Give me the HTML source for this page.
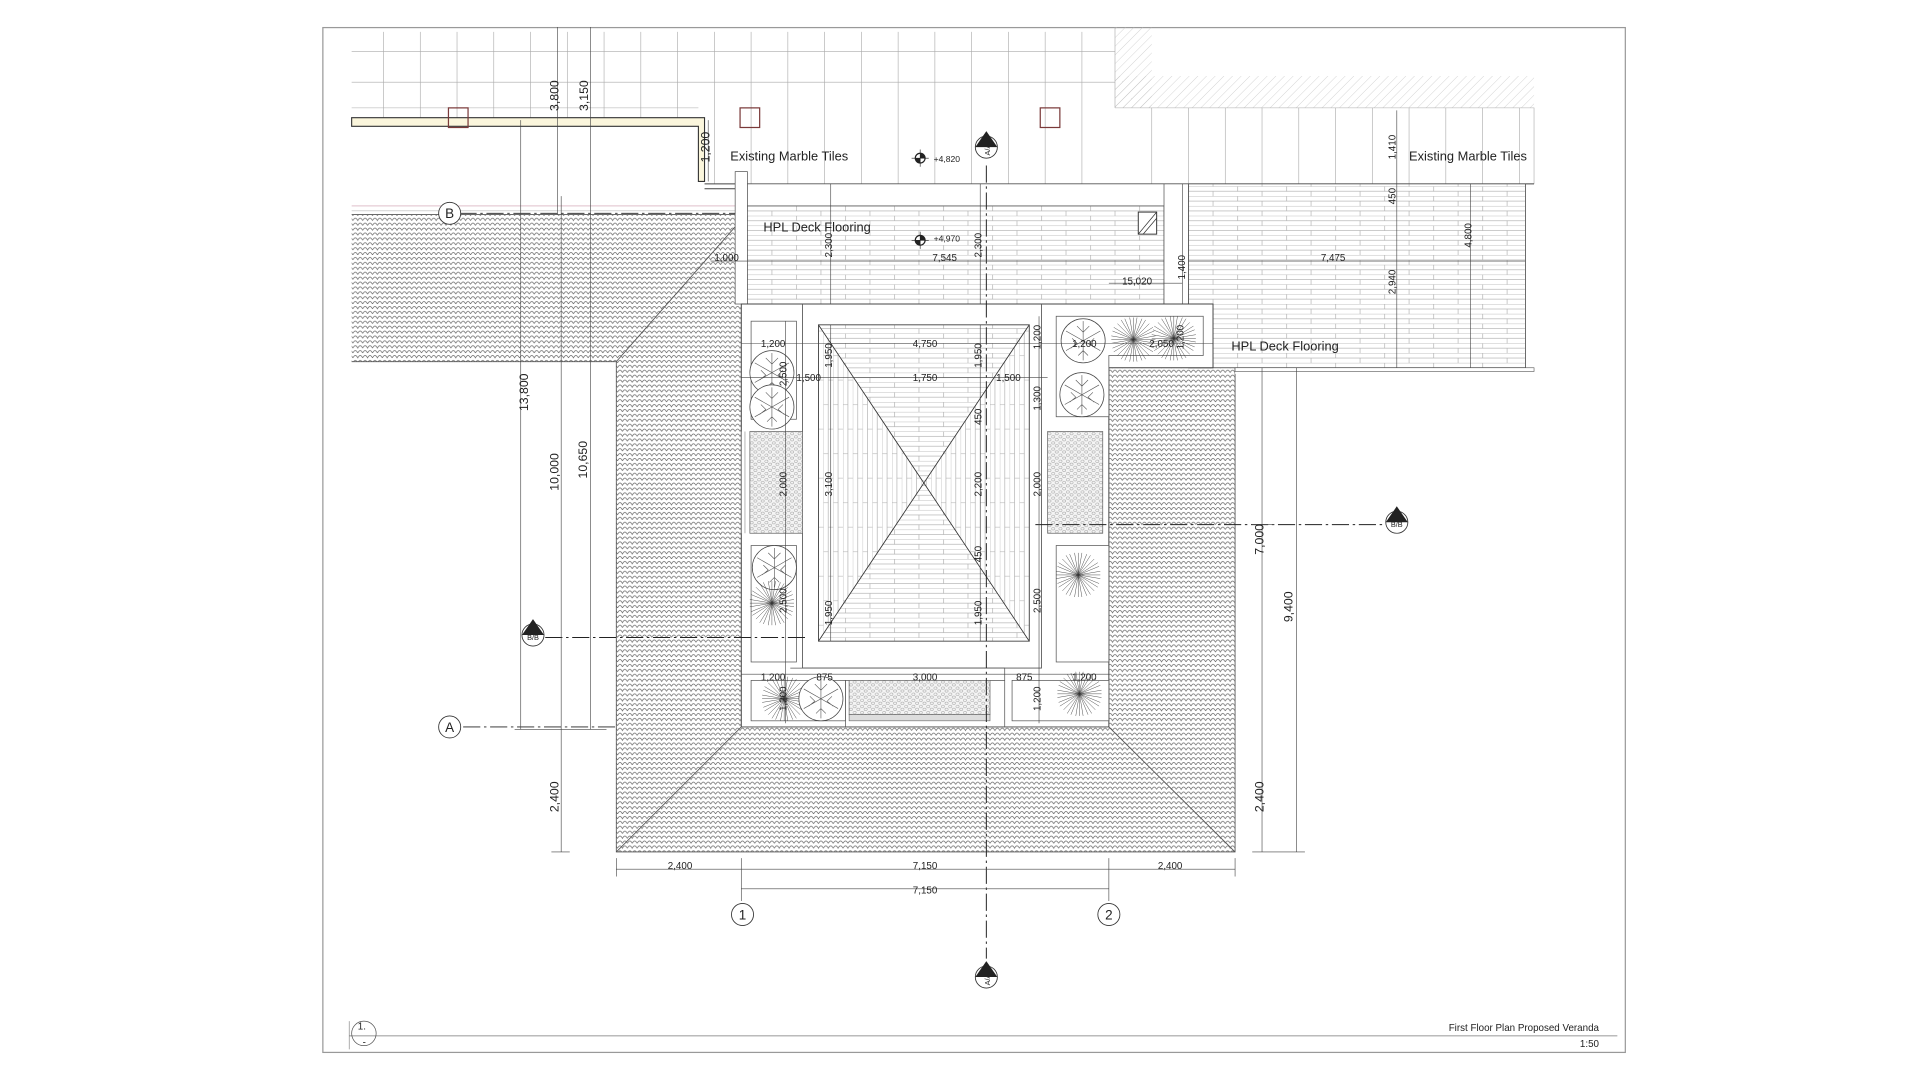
<!DOCTYPE html>
<html><head><meta charset="utf-8"><style>
html,body{margin:0;padding:0;background:#fff;width:1920px;height:1080px;overflow:hidden}
svg{display:block}
text{font-family:"Liberation Sans Narrow","Liberation Sans",sans-serif;fill:#222}
.d{font-size:8px}
.l{font-size:10.5px}
</style></head><body>
<svg width="1920" height="1080" viewBox="0 0 1567 881" preserveAspectRatio="none" xmlns="http://www.w3.org/2000/svg">
<defs>
<pattern id="tile" width="8" height="8" patternUnits="userSpaceOnUse">
<rect width="8" height="8" fill="#fff"/>
<path d="M0 4 Q2 0 4 4 Q6 0 8 4" fill="none" stroke="#666" stroke-width="0.55"/>
<path d="M-4 8 Q-2 4 0 8 Q2 4 4 8 Q6 4 8 8 Q10 4 12 8" fill="none" stroke="#666" stroke-width="0.55"/>
</pattern>
<pattern id="deckh" width="40" height="8" patternUnits="userSpaceOnUse">
<rect width="40" height="8" fill="#fff"/>
<path d="M0 0H40M0 4H40M10 0V4M30 4V8" stroke="#aaa" stroke-width="0.5"/>
</pattern>
<pattern id="deckv" width="8" height="40" patternUnits="userSpaceOnUse">
<rect width="8" height="40" fill="#fff"/>
<path d="M0 0V40M4 0V40M0 10H4M4 30H8" stroke="#aaa" stroke-width="0.5"/>
</pattern>
<pattern id="grav" width="6" height="5" patternUnits="userSpaceOnUse">
<rect width="6" height="5" fill="#f4f4f4"/>
<ellipse cx="1.5" cy="1.3" rx="1.3" ry="1" fill="none" stroke="#999" stroke-width="0.4"/>
<ellipse cx="4.5" cy="3.7" rx="1.3" ry="1" fill="none" stroke="#999" stroke-width="0.4"/>
</pattern>
<pattern id="hatch" width="5" height="5" patternUnits="userSpaceOnUse" patternTransform="rotate(45)">
<path d="M0 0V5" stroke="#bbb" stroke-width="0.5"/>
</pattern>
<g id="tree">
<circle r="18" fill="#fff" stroke="#444" stroke-width="0.6"/>
<path d="M0 0L0-16M0 0L14-8M0 0L14 8M0 0L0 16M0 0L-14 8M0 0L-14-8M-5-12L0-7L5-12M9-2L5 2L10 6M-9-2L-5 2L-10 6M-4 12L0 8L4 12" fill="none" stroke="#555" stroke-width="0.5"/>
</g>
<g id="palm" stroke="#333" stroke-width="0.35">
<path d="M-18 0H18M0-18V18M-13-13L13 13M13-13L-13 13M-17-7L17 7M-17 7L17-7M-7-17L7 17M7-17L-7 17M-16-10L16 10M-16 10L16-10M-10-16L10 16M10-16L-10 16M-18-3L18 3M-18 3L18-3M-3-18L3 18M3-18L-3 18"/>
</g>
</defs>
<rect width="1567" height="881" fill="#fff"/>
<rect x="263.5" y="22.5" width="1063" height="836" fill="none" stroke="#999" stroke-width="1"/>
<line x1="285" y1="845" x2="1320" y2="845" stroke="#777" stroke-width="0.7"/>
<line x1="285" y1="833" x2="285" y2="856" stroke="#777" stroke-width="0.5"/>
<text x="292" y="840" class="d">1.</text><text x="296" y="853" class="d">-</text>
<circle cx="297" cy="843" r="10" fill="none" stroke="#555" stroke-width="0.6"/>
<text x="1305" y="841" class="d" text-anchor="end">First Floor Plan Proposed Veranda</text>
<text x="1305" y="854" class="d" text-anchor="end">1:50</text>

<rect x="910" y="22" width="30" height="66" fill="url(#hatch)"/>
<rect x="910" y="62" width="342" height="26" fill="url(#hatch)"/>
<g stroke="#aaa" stroke-width="0.5" fill="none">
<path d="M287 42H910M287 67H910M287 88H570"/>
<path d="M313 26V96M343 26V96M373 26V96M403 26V96M433 26V96M463 26V96M493 26V96M523 26V96M553 26V96M583 26V150M613 26V150M643 26V150M673 26V150M703 26V150M733 26V150M763 26V150M793 26V150M823 26V150M853 26V150M883 26V150M910 22V88"/>
<path d="M910 88H1252V150M940 88V150M970 88V150M1000 88V150M1030 88V150M1060 88V150M1090 88V150M1120 88V150M1150 88V150M1180 88V150M1210 88V150M1240 88V150"/>
</g>
<path d="M287 96H575V148H570V103H287Z" fill="#fbf6dc" stroke="#333" stroke-width="0.9"/>
<g fill="none" stroke="#7a3a3a" stroke-width="1"><rect x="366" y="88" width="16" height="16"/><rect x="604" y="88" width="16" height="16"/><rect x="849" y="88" width="16" height="16"/></g>
<path d="M575 150H1252M575 154H1245" stroke="#444" stroke-width="0.8"/>

<rect x="287" y="175" width="313" height="120" fill="url(#tile)"/>
<rect x="503" y="175" width="505" height="520" fill="url(#tile)"/>
<path d="M287 168H600" stroke="#c9a" stroke-width="0.5"/><path d="M287 172H600" stroke="#bbb" stroke-width="0.5"/>
<path d="M287 175H600M287 295H503V695H1008V300M503 295L600 185M605 593L503 695M905 593L1008 695" fill="none" stroke="#555" stroke-width="0.7"/>
<rect x="1008" y="295" width="245" height="10" fill="#fff"/>

<rect x="600" y="140" width="10" height="108" fill="#fff" stroke="#555" stroke-width="0.6"/>
<rect x="610" y="150" width="360" height="18" fill="#fff" stroke="#555" stroke-width="0.6"/>
<rect x="610" y="168" width="340" height="80" fill="url(#deckh)" stroke="#555" stroke-width="0.6"/>
<rect x="950" y="150" width="20" height="98" fill="#fff" stroke="#555" stroke-width="0.6"/>
<rect x="970" y="150" width="275" height="150" fill="url(#deckh)" stroke="#555" stroke-width="0.7"/>
<rect x="970" y="248" width="20" height="52" fill="#fff" stroke="#555" stroke-width="0.6"/>
<rect x="1008" y="300" width="244" height="3" fill="#fff" stroke="#555" stroke-width="0.5"/>
<rect x="929" y="173" width="15" height="18" fill="#fff" stroke="#333" stroke-width="0.8"/><path d="M929 191L944 173M933 191L944 178" stroke="#333" stroke-width="0.6"/>

<path d="M605 248H990V300H905V593H605Z" fill="#fff" stroke="#444" stroke-width="0.8"/>
<path d="M655 248V545H850V248" fill="none" stroke="#555" stroke-width="0.7"/>
<path d="M645 545H820V593M690 593V555H820" fill="none" stroke="#555" stroke-width="0.6"/>
<rect x="668" y="265" width="172" height="258" fill="#fff" stroke="#444" stroke-width="0.7"/>
<polygon points="668,265 840,265 754,394" fill="url(#deckh)"/>
<polygon points="668,523 840,523 754,394" fill="url(#deckh)"/>
<polygon points="668,265 668,523 754,394" fill="url(#deckv)"/>
<polygon points="840,265 840,523 754,394" fill="url(#deckv)"/>
<path d="M668 265L840 523M840 265L668 523" stroke="#333" stroke-width="0.7"/>
<rect x="668" y="265" width="172" height="258" fill="none" stroke="#444" stroke-width="0.7"/>

<g fill="#fff" stroke="#555" stroke-width="0.6">
<rect x="613" y="262" width="37" height="80"/>
<rect x="613" y="445" width="37" height="95"/>
<rect x="613" y="555" width="77" height="33"/>
<path d="M862 258H982V290H905V340H862Z"/>
<rect x="862" y="445" width="43" height="95"/>
<rect x="826" y="555" width="79" height="33"/>
</g>
<rect x="612" y="352" width="43" height="83" fill="url(#grav)" stroke="#666" stroke-width="0.6"/>
<path d="M605 352V435M608 352V435" stroke="#888" stroke-width="0.5"/>
<rect x="855" y="352" width="45" height="83" fill="url(#grav)" stroke="#666" stroke-width="0.6"/>
<rect x="693" y="555" width="115" height="28" fill="url(#grav)" stroke="#666" stroke-width="0.6"/>
<rect x="693" y="583" width="115" height="5" fill="#ddd" stroke="#666" stroke-width="0.5"/>
<use href="#tree" x="630" y="304"/>
<use href="#tree" x="630" y="332"/>
<use href="#tree" x="632" y="463"/>
<use href="#palm" x="630" y="492"/>
<use href="#palm" x="640" y="570"/>
<use href="#tree" x="670" y="570"/>
<use href="#tree" x="884" y="278"/>
<use href="#palm" x="925" y="277"/>
<use href="#palm" x="958" y="276"/>
<use href="#tree" x="883" y="322"/>
<use href="#palm" x="880" y="469"/>
<use href="#palm" x="881" y="566"/>

<g stroke="#222" stroke-width="0.8" stroke-dasharray="14 3 2 3" fill="none">
<path d="M805 135V782"/>
<path d="M378 593H503"/>
<path d="M445 520H660"/>
<path d="M845 428H1130"/>
<path d="M375 174H600"/>
</g>
<g fill="#fff" stroke="#333" stroke-width="0.7">
<circle cx="367" cy="593" r="9"/><circle cx="367" cy="174" r="9"/>
<circle cx="606" cy="746" r="9"/><circle cx="905" cy="746" r="9"/>
<circle cx="805" cy="120" r="9"/><circle cx="805" cy="797" r="9"/>
<circle cx="435" cy="518" r="9"/><circle cx="1140" cy="426" r="9"/>
</g>
<g fill="#222"><path d="M796 120L805 107L814 120Z"/><path d="M796 797L805 784L814 797Z"/><path d="M426 518L435 505L444 518Z"/><path d="M1131 426L1140 413L1149 426Z"/></g>
<g font-size="11"><text x="367" y="597" text-anchor="middle">A</text><text x="367" y="178" text-anchor="middle">B</text><text x="606" y="750" text-anchor="middle">1</text><text x="905" y="750" text-anchor="middle">2</text></g>
<g font-size="6"><text transform="translate(808 122) rotate(-90)" text-anchor="middle">A/A</text><text transform="translate(808 799) rotate(-90)" text-anchor="middle">A/A</text><text x="435" y="522" text-anchor="middle">B/B</text><text x="1140" y="430" text-anchor="middle">B/B</text></g>
<g transform="translate(751 129)"><circle r="4" fill="#fff" stroke="#222"/><path d="M0 0V-4A4 4 0 0 1 4 0ZM0 0V4A4 4 0 0 1 -4 0Z" fill="#222"/><path d="M-7 0H7M0-7V7" stroke="#222" stroke-width="0.5"/></g>
<g transform="translate(751 196)"><circle r="4" fill="#fff" stroke="#222"/><path d="M0 0V-4A4 4 0 0 1 4 0ZM0 0V4A4 4 0 0 1 -4 0Z" fill="#222"/><path d="M-7 0H7M0-7V7" stroke="#222" stroke-width="0.5"/></g>

<g stroke="#444" stroke-width="0.5" fill="none">
<path d="M503 709H1008M605 725H905"/>
<path d="M503 700V715M605 700V735M905 700V735M1008 700V715"/>
<path d="M425 98V595M458 160V695M482 22V595M455 22V175"/>
<path d="M420 595H495M450 695H465"/>
<path d="M1030 300V695M1058 300V695M1140 90V300M1200 150V300"/>
<path d="M1022 695H1065M1022 428H1040"/>
<path d="M580 213H610M610 213H950M970 213H1245"/>
<path d="M678 150V248M800 150V248M965 150V248M905 231H965"/>
<path d="M605 280H990M605 308H855M605 550H905"/>
<path d="M641 262V590M678 265V523M800 265V523M848 258V590"/>
<path d="M578 98V148"/>
</g>
<g class="d">
<text x="555" y="709" text-anchor="middle">2,400</text><text x="755" y="709" text-anchor="middle">7,150</text><text x="955" y="709" text-anchor="middle">2,400</text>
<text x="755" y="729" text-anchor="middle">7,150</text>
<text x="596" y="131" class="l">Existing Marble Tiles</text>
<text x="1150" y="131" class="l">Existing Marble Tiles</text>
<text x="623" y="189" class="l">HPL Deck Flooring</text>
<text x="1005" y="286" class="l">HPL Deck Flooring</text>
<text x="762" y="132" font-size="7">+4,820</text><text x="762" y="197" font-size="7">+4,970</text>
<text x="771" y="213" text-anchor="middle">7,545</text><text x="928" y="232" text-anchor="middle">15,020</text><text x="1088" y="213" text-anchor="middle">7,475</text><text x="593" y="213" text-anchor="middle">1,000</text>
<text x="631" y="283" text-anchor="middle">1,200</text><text x="755" y="283" text-anchor="middle">4,750</text><text x="885" y="283" text-anchor="middle">1,200</text><text x="948" y="283" text-anchor="middle">2,050</text>
<text x="660" y="311" text-anchor="middle">1,500</text><text x="755" y="311" text-anchor="middle">1,750</text><text x="823" y="311" text-anchor="middle">1,500</text>
<text x="631" y="555" text-anchor="middle">1,200</text><text x="673" y="555" text-anchor="middle">875</text><text x="755" y="555" text-anchor="middle">3,000</text><text x="836" y="555" text-anchor="middle">875</text><text x="885" y="555" text-anchor="middle">1,200</text>
</g>
<g class="d" text-anchor="middle">
<text transform="translate(431 320) rotate(-90)" font-size="10">13,800</text>
<text transform="translate(456 385) rotate(-90)" font-size="10">10,000</text>
<text transform="translate(479 375) rotate(-90)" font-size="10">10,650</text>
<text transform="translate(456 650) rotate(-90)" font-size="10">2,400</text>
<text transform="translate(456 78) rotate(-90)" font-size="10">3,800</text>
<text transform="translate(480 78) rotate(-90)" font-size="10">3,150</text>
<text transform="translate(579 120) rotate(-90)" font-size="10">1,200</text>
<text transform="translate(1031 440) rotate(-90)" font-size="10">7,000</text>
<text transform="translate(1031 650) rotate(-90)" font-size="10">2,400</text>
<text transform="translate(1055 495) rotate(-90)" font-size="10">9,400</text>
<text transform="translate(1139 120) rotate(-90)">1,410</text>
<text transform="translate(1139 160) rotate(-90)">450</text>
<text transform="translate(1139 230) rotate(-90)">2,940</text>
<text transform="translate(1201 192) rotate(-90)">4,800</text>
<text transform="translate(679 200) rotate(-90)">2,300</text>
<text transform="translate(801 200) rotate(-90)">2,300</text>
<text transform="translate(967 218) rotate(-90)">1,400</text>
<text transform="translate(679 290) rotate(-90)">1,950</text>
<text transform="translate(801 290) rotate(-90)">1,950</text>
<text transform="translate(849 275) rotate(-90)">1,200</text>
<text transform="translate(966 275) rotate(-90)">1,200</text>
<text transform="translate(642 305) rotate(-90)">2,500</text>
<text transform="translate(849 325) rotate(-90)">1,300</text>
<text transform="translate(801 340) rotate(-90)">450</text>
<text transform="translate(642 395) rotate(-90)">2,000</text>
<text transform="translate(679 395) rotate(-90)">3,100</text>
<text transform="translate(801 395) rotate(-90)">2,200</text>
<text transform="translate(849 395) rotate(-90)">2,000</text>
<text transform="translate(801 452) rotate(-90)">450</text>
<text transform="translate(642 490) rotate(-90)">2,500</text>
<text transform="translate(679 500) rotate(-90)">1,950</text>
<text transform="translate(801 500) rotate(-90)">1,950</text>
<text transform="translate(849 490) rotate(-90)">2,500</text>
<text transform="translate(642 570) rotate(-90)">1,200</text>
<text transform="translate(849 570) rotate(-90)">1,200</text>
</g>
</svg>
</body></html>
